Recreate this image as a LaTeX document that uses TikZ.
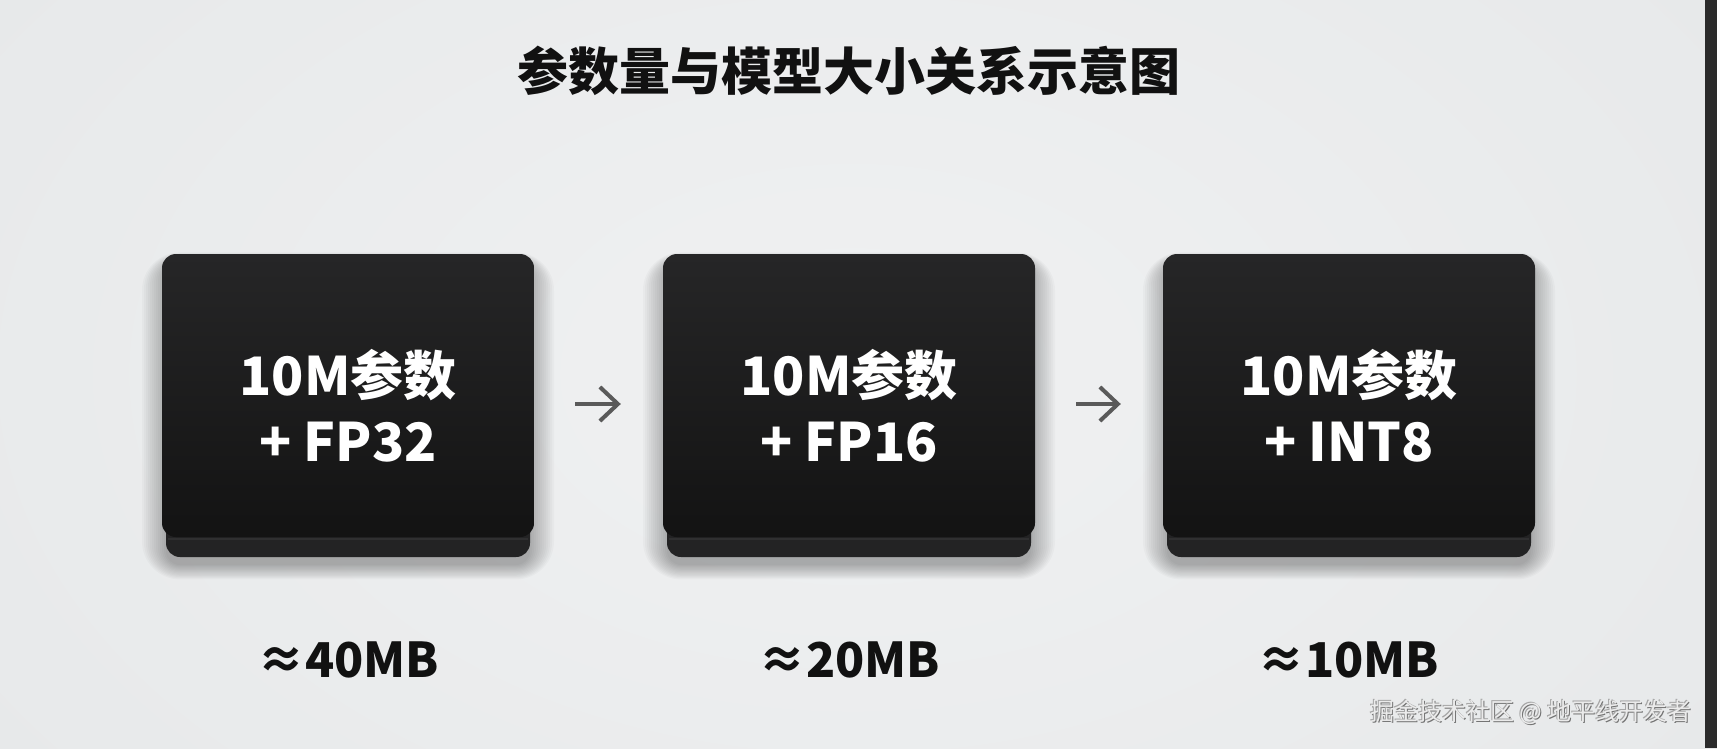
\documentclass[tikz,border=0pt]{standalone}
\usepackage{fontspec}
\newfontfamily\cjk{Noto Sans CJK SC}
\newfontfamily\cjkblack{Noto Sans CJK SC}[UprightFont=* Black, BoldFont=* Black]
\usetikzlibrary{arrows.meta}
\definecolor{bgin}{HTML}{F0F1F2}
\definecolor{bgout}{HTML}{E7E9EA}
\definecolor{facetop}{HTML}{262627}
\definecolor{facebot}{HTML}{131313}
\definecolor{basec}{HTML}{232324}
\definecolor{baseedge}{HTML}{2F2F30}
\definecolor{arrc}{HTML}{5A5A5A}
\definecolor{inkc}{HTML}{111111}
\definecolor{stripc}{HTML}{2B2B2B}
\tikzset{
  chipface/.style={rounded corners=14pt, minimum width=372pt, minimum height=283pt,
    top color=facetop, bottom color=facebot, draw=none, inner sep=0pt},
  shadowlayer/.style={fill=black, fill opacity=0.022},
  chipbase/.style={fill=basec, rounded corners=14pt},
  chiptext/.style={text=white, align=center, font=\cjk\bfseries\fontsize{53}{66}\selectfont},
  sizelabel/.style={text=inkc, font=\cjk\bfseries\fontsize{48}{56}\selectfont},
  arr/.style={draw=arrc, line width=4pt, -{Straight Barb[length=18pt,width=34pt,line width=4pt]}},
  wmfont/.style={font=\cjk\fontsize{24}{28}\selectfont, anchor=east},
}
\begin{document}
\begin{tikzpicture}[x=1pt,y=-1pt]
\useasboundingbox (0,0) rectangle (1717,748);
\path[shading=radial, inner color=bgin, outer color=bgout] (-200,-300) rectangle (1905,1048);
\fill[stripc] (1705,0) rectangle (1717,748);
% title
\node[text=inkc, font=\cjkblack\fontsize{51}{60}\selectfont] (title) at (849,71) {参数量与模型大小关系示意图};
% boxes
\foreach \cx/\nm in {348/b1, 849/b2, 1349/b3}{
  \foreach \e in {0,2,...,24}{
    \fill[shadowlayer, rounded corners=14pt+\e pt] (\cx-182-\e,262-0.4*\e) rectangle (\cx+182+\e,565+0.6*\e);
  }
  \fill[chipbase] (\cx-182,515) rectangle (\cx+182,557);
  \draw[baseedge, line width=2pt] (\cx-180,539) -- (\cx+180,539);
  \node[chipface] (\nm) at (\cx,395.5) {};
}
\node[chiptext] (t1) at ([yshift=-10pt]b1.center) {10M参数\\+ FP32};
\node[chiptext] (t2) at ([yshift=-10pt]b2.center) {10M参数\\+ FP16};
\node[chiptext] (t3) at ([yshift=-10pt]b3.center) {10M参数\\+ INT8};
% arrows
\draw[arr] ([xshift=41pt,yshift=-8.5pt]b1.east) -- ([xshift=-42pt,yshift=-8.5pt]b2.west);
\draw[arr] ([xshift=41pt,yshift=-8.5pt]b2.east) -- ([xshift=-42pt,yshift=-8.5pt]b3.west);
% size labels
\node[sizelabel] (m1) at (348,660) {≈40MB};
\node[sizelabel] (m2) at (849,660) {≈20MB};
\node[sizelabel] (m3) at (1348,660) {≈10MB};
% watermark
\node[text=black!55, wmfont] (wmshadow) at (1696.0,713.0) {掘金技术社区 @ 地平线开发者};
\node[text=black!35, wmfont] (wmshadow2) at (1694.2,711.2) {掘金技术社区 @ 地平线开发者};
\node[text=white!92!black, wmfont] (wm) at (1695,712) {掘金技术社区 @ 地平线开发者};
\end{tikzpicture}
\end{document}
